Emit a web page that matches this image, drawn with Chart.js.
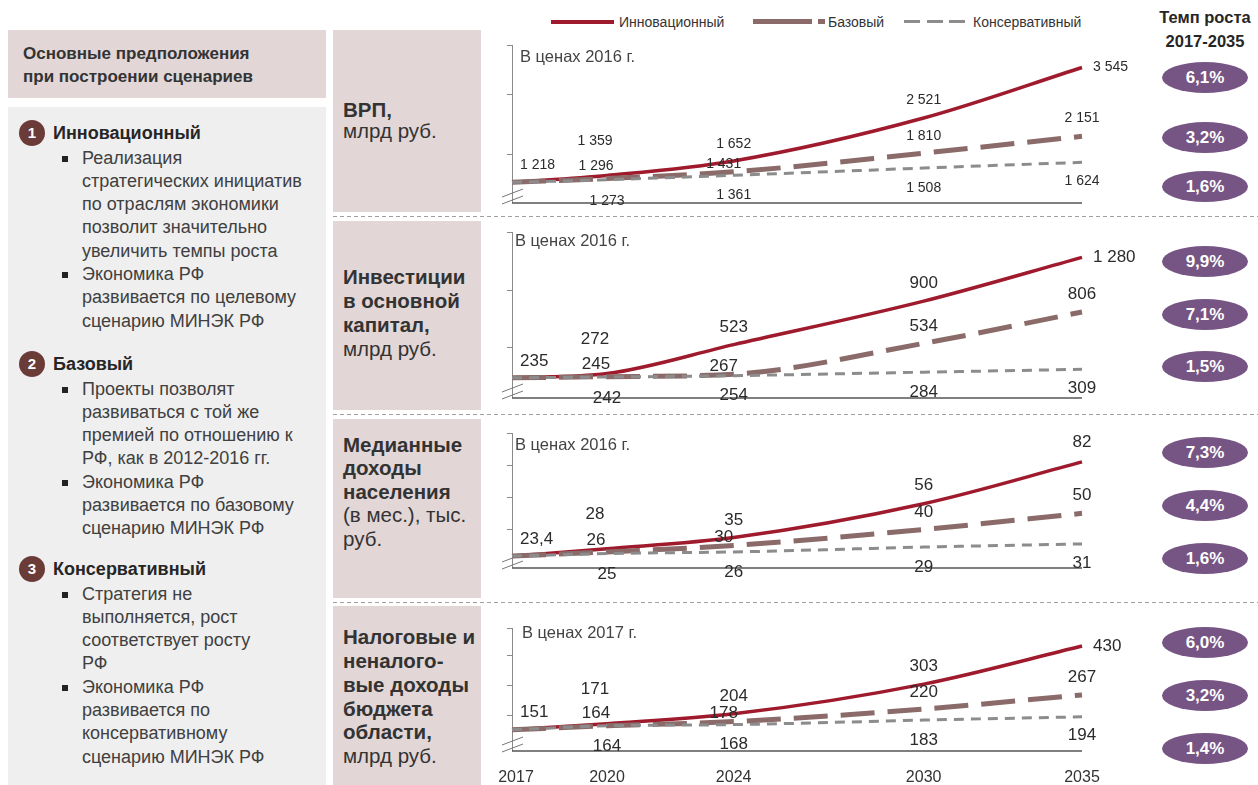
<!DOCTYPE html>
<html>
<head>
<meta charset="utf-8">
<script src="https://cdn.jsdelivr.net/npm/chart.js@4.4.0/dist/chart.umd.min.js"></script>
<style>
  body { margin: 0; width: 1258px; height: 785px; position: relative; overflow: hidden; background: #fff; font-family: Arial, "Liberation Sans", sans-serif; color: #333; }
  .abs { position: absolute; }
  .pink { background: #e2d6d6; }
  .head { left: 8px; top: 30px; width: 318px; height: 68px; font-weight: bold; font-size: 17px; line-height: 23px; color: #333; }
  .head div { position: absolute; left: 15px; white-space: nowrap; }
  .panel { left: 8px; top: 107px; width: 318px; height: 678px; background: #efefef; }
  .num { width: 26px; height: 26px; border-radius: 50%; background: #6b3b38; color: #fff; font-weight: bold; font-size: 15px; line-height: 26px; text-align: center; }
  .ttl { font-weight: bold; font-size: 18px; line-height: 24px; color: #262626; white-space: nowrap; }
  .ln { font-size: 18px; color: #404040; white-space: nowrap; line-height: 23.3px; }
  .bul { width: 6px; height: 6px; background: #222; }
  .box { left: 333px; width: 148px; }
  .box div { position: absolute; left: 10px; font-size: 20.5px; line-height: 24px; white-space: nowrap; color: #333; }
  .sep { left: 333px; width: 925px; height: 1px; background: repeating-linear-gradient(90deg, #a0a0a0 0 4px, transparent 4px 7px); }
  .badge { left: 1162px; width: 86px; height: 31px; border-radius: 50%; background: #765584; color: #fff; font-weight: bold; font-size: 17px; line-height: 31px; text-align: center; }
  .lg { font-size: 14px; line-height: 16px; color: #333; white-space: nowrap; }
  canvas { position: absolute; }
</style>
</head>
<body>

<!-- legend -->
<div class="abs" style="left:551px;top:20px;width:63px;height:4px;background:#9e1a2c"></div>
<div class="abs lg" style="left:619px;top:14px">Инновационный</div>
<div class="abs" style="left:753px;top:19px;width:59px;height:5px;background:#8a6b69"></div>
<div class="abs" style="left:818px;top:19px;width:7px;height:5px;background:#8a6b69"></div>
<div class="abs lg" style="left:828px;top:14px">Базовый</div>
<div class="abs" style="left:904px;top:20px;width:16px;height:3px;background:#8c8c8c"></div>
<div class="abs" style="left:927px;top:20px;width:16px;height:3px;background:#8c8c8c"></div>
<div class="abs" style="left:949px;top:20px;width:16px;height:3px;background:#8c8c8c"></div>
<div class="abs lg" style="left:973px;top:14px">Консервативный</div>

<div class="abs" style="left:1135px;top:5px;width:140px;text-align:center;font-weight:bold;font-size:16.5px;line-height:24px;color:#262626">Темп роста<br>2017-2035</div>

<!-- left panel -->
<div class="abs pink head"><div style="top:12px">Основные предположения</div><div style="top:35px">при построении сценариев</div></div>
<div class="abs panel"></div>
<div id="items"></div>

<!-- row label boxes -->
<div class="abs pink box" style="top:30px;height:182px"><div style="top:68px"><b>ВРП,</b></div><div style="top:89px">млрд руб.</div></div>
<div class="abs pink box" style="top:221px;height:189px"><div style="top:44px"><b>Инвестиции</b></div><div style="top:68px"><b>в основной</b></div><div style="top:92px"><b>капитал,</b></div><div style="top:116px">млрд руб.</div></div>
<div class="abs pink box" style="top:419px;height:179px"><div style="top:14px"><b>Медианные</b></div><div style="top:37px"><b>доходы</b></div><div style="top:61px"><b>населения</b></div><div style="top:84px">(в мес.), тыс.</div><div style="top:108px">руб.</div></div>
<div class="abs pink box" style="top:606px;height:179px"><div style="top:19px"><b>Налоговые и</b></div><div style="top:43px"><b>неналого-</b></div><div style="top:67px"><b>вые доходы</b></div><div style="top:91px"><b>бюджета</b></div><div style="top:114px"><b>области,</b></div><div style="top:138px">млрд руб.</div></div>

<div class="abs sep" style="top:216px"></div>
<div class="abs sep" style="top:414px"></div>
<div class="abs sep" style="top:602px"></div>

<canvas id="c1" width="680" height="178" style="left:480px;top:34px"></canvas>
<canvas id="c2" width="680" height="192" style="left:480px;top:220px"></canvas>
<canvas id="c3" width="680" height="182" style="left:480px;top:418px"></canvas>
<canvas id="c4" width="680" height="179" style="left:480px;top:606px"></canvas>

<div id="badges"></div>

<script>
'use strict';

// ******* DATA *********
const years = [2017, 2020, 2024, 2030, 2035];

const grpInno = [1218, 1359, 1652, 2521, 3545];
const grpBase = [1218, 1296, 1431, 1810, 2151];
const grpCons = [1218, 1273, 1361, 1508, 1624];

const invInno = [235, 272, 523, 900, 1280];
const invBase = [235, 245, 267, 534, 806];
const invCons = [235, 242, 254, 284, 309];

const incInno = [23.4, 28, 35, 56, 82];
const incBase = [23.4, 26, 30, 40, 50];
const incCons = [23.4, 25, 26, 29, 31];

const taxInno = [151, 171, 204, 303, 430];
const taxBase = [151, 164, 178, 220, 267];
const taxCons = [151, 164, 168, 183, 194];

const grpRates = ['6,1%', '3,2%', '1,6%'];
const invRates = ['9,9%', '7,1%', '1,5%'];
const incRates = ['7,3%', '4,4%', '1,6%'];
const taxRates = ['6,0%', '3,2%', '1,4%'];

// hidden y-axis tick marks (no labels)
const grpTicks = [4000, 3000, 1800];
const invTicks = [1500, 1000, 500];
const incTicks = [100, 80, 60, 40];
const taxTicks = [490, 400, 300, 200];

// ******* LEFT PANEL TEXT ********
const scenarios = [
  { n: '1', title: 'Инновационный', top: 120, lines: [
    ['Реализация', true], ['стратегических инициатив'], ['по отраслям экономики'], ['позволит значительно'], ['увеличить темпы роста'],
    ['Экономика  РФ', true], ['развивается по целевому'], ['сценарию МИНЭК  РФ']] },
  { n: '2', title: 'Базовый', top: 351, lines: [
    ['Проекты  позволят', true], ['развиваться с той же'], ['премией  по отношению к'], ['РФ, как в 2012-2016 гг.'],
    ['Экономика  РФ', true], ['развивается по базовому'], ['сценарию МИНЭК  РФ']] },
  { n: '3', title: 'Консервативный', top: 556, lines: [
    ['Стратегия не', true], ['выполняется, рост'], ['соответствует росту'], ['РФ'],
    ['Экономика  РФ', true], ['развивается по'], ['консервативному'], ['сценарию МИНЭК  РФ']] }
];

let itemsBox = document.getElementById('items');
let html = '';
for (let i = 0; i < scenarios.length; i++) {
  let s = scenarios[i];
  html += `<div class="abs num" style="left:19px;top:${s.top}px">${s.n}</div>`;
  html += `<div class="abs ttl" style="left:53px;top:${s.top + 1}px">${s.title}</div>`;
  for (let j = 0; j < s.lines.length; j++) {
    let top = s.top + 26.5 + j * 23.3;
    if (s.lines[j][1]) {
      html += `<div class="abs bul" style="left:62px;top:${top + 9}px"></div>`;
    }
    html += `<div class="abs ln" style="left:82px;top:${top}px">${s.lines[j][0]}</div>`;
  }
}
itemsBox.innerHTML = html;

// ******* BADGES ********
const badgeRows = [[grpRates, [77, 137, 186]], [invRates, [261, 314, 366]], [incRates, [452, 505, 558]], [taxRates, [642, 695, 748]]];
let badgeHtml = '';
for (let r = 0; r < badgeRows.length; r++) {
  for (let k = 0; k < 3; k++) {
    badgeHtml += `<div class="abs badge" style="top:${badgeRows[r][1][k] - 15}px">${badgeRows[r][0][k]}</div>`;
  }
}
document.getElementById('badges').innerHTML = badgeHtml;

// ******* HELPERS ********
function fmt(v) {
  return String(v).replace('.', ',').replace(/\B(?=(\d{3})+(?!\d))/g, ' ');
}

function pts(arr) {
  return arr.map((v, i) => ({ x: years[i], y: v }));
}

// label offsets from each point [dx, dy]
const shiftInno = [[-17], [-12, -34], [0, -17], [0, -18], [0, 0]];
const shiftBase = [null, [-11, -12], [-10, -8], [0, -17], [0, -18]];
const shiftCons = [null, [0, 21], [0, 20], [0, 20], [0, 19]];

// ******* CHART BUILDER ********
function makeChart(id, inno, base, cons, yMin, yMax, tickMarks, opt) {
  let frame = {
    id: 'frame' + id,
    beforeDatasetsDraw(chart) {
      let c = chart.ctx;
      let a = chart.chartArea;
      let ys = chart.scales.y;
      c.save();
      c.strokeStyle = '#8a8a8a';
      c.lineWidth = 1;
      c.beginPath();
      c.moveTo(a.left + 0.5, a.top);
      c.lineTo(a.left + 0.5, a.bottom);
      for (let t of tickMarks) {
        let py = Math.round(ys.getPixelForValue(t)) + 0.5;
        c.moveTo(a.left - 5, py);
        c.lineTo(a.left + 0.5, py);
      }
      c.stroke();
      // break marks
      c.strokeStyle = '#777';
      c.beginPath();
      c.moveTo(a.left - 10, a.bottom - 6);
      c.lineTo(a.left + 11, a.bottom - 14);
      c.moveTo(a.left - 10, a.bottom + 1);
      c.lineTo(a.left + 11, a.bottom - 7);
      c.stroke();
      // baseline
      c.strokeStyle = '#555';
      c.lineWidth = 1.5;
      c.beginPath();
      c.moveTo(a.left, a.bottom);
      c.lineTo(a.right, a.bottom);
      c.stroke();
      // note
      c.fillStyle = '#444';
      c.font = '16.5px Arial, "Liberation Sans"';
      c.textBaseline = 'middle';
      c.textAlign = 'left';
      c.fillText(opt.note, a.left + opt.noteX, a.top + opt.noteY);
      // years
      if (opt.showYears) {
        c.fillStyle = '#333';
        c.textAlign = 'center';
        c.font = '16px Arial, "Liberation Sans"';
        let xs = chart.scales.x;
        for (let yr of years) {
          c.fillText(String(yr), xs.getPixelForValue(yr) + (yr === years[0] ? 4 : 0), a.bottom + 27);
        }
      }
      c.restore();
    },
    afterDatasetsDraw(chart) {
      let c = chart.ctx;
      c.save();
      c.fillStyle = '#2b2b2b';
      c.font = opt.labelFont;
      c.textBaseline = 'middle';
      let groups = [[inno, shiftInno], [base, shiftBase], [cons, shiftCons]];
      let xs = chart.scales.x;
      let ys = chart.scales.y;
      for (let g = 0; g < groups.length; g++) {
        let vals = groups[g][0];
        let sh = groups[g][1];
        for (let i = 0; i < vals.length; i++) {
          if (!sh[i]) continue;
          let px = xs.getPixelForValue(years[i]);
          let py = ys.getPixelForValue(vals[i]);
          if (g === 0 && i === 0) {
            c.textAlign = 'left';
            c.fillText(fmt(vals[i]), px + 8, py + sh[i][0]);
          } else if (g === 0 && i === vals.length - 1 && !opt.endAbove) {
            c.textAlign = 'left';
            c.fillText(fmt(vals[i]), px + 11, py);
          } else if (g === 0 && i === vals.length - 1) {
            c.textAlign = 'center';
            c.fillText(fmt(vals[i]), px, py - 20);
          } else {
            c.textAlign = 'center';
            c.fillText(fmt(vals[i]), px + sh[i][0], py + sh[i][1]);
          }
        }
      }
      c.restore();
    }
  };

  return new Chart(document.getElementById(id), { //eslint-disable-line
    type: 'line',
    data: {
      datasets: [
        { label: 'Консервативный', data: pts(cons), borderColor: '#8c8c8c', borderWidth: 3, borderDash: [10, 7], cubicInterpolationMode: 'monotone', pointRadius: 0, clip: false },
        { label: 'Базовый', data: pts(base), borderColor: '#8a6b69', borderWidth: 5, borderDash: [34, 13], cubicInterpolationMode: 'monotone', pointRadius: 0, clip: false },
        { label: 'Инновационный', data: pts(inno), borderColor: '#9e1a2c', borderWidth: 3.5, cubicInterpolationMode: 'monotone', pointRadius: 0, clip: false }
      ]
    },
    options: {
      responsive: false,
      animation: false,
      layout: { padding: opt.pad },
      plugins: { legend: { display: false }, tooltip: { enabled: false } },
      scales: {
        x: { type: 'linear', min: years[0], max: years[years.length - 1], display: false },
        y: { min: yMin, max: yMax, display: false }
      }
    },
    plugins: [frame]
  });
}

makeChart('c1', grpInno, grpBase, grpCons, 800, 4000, grpTicks,
  { pad: { left: 32, right: 78, top: 11, bottom: 9 }, note: 'В ценах 2016 г.', noteX: 8, noteY: 12, labelFont: '14px Arial, "Liberation Sans"' });
makeChart('c2', invInno, invBase, invCons, 60, 1500, invTicks,
  { pad: { left: 32, right: 78, top: 12, bottom: 14 }, note: 'В ценах 2016 г.', noteX: 3, noteY: 9, labelFont: '17px Arial, "Liberation Sans"' });
makeChart('c3', incInno, incBase, incCons, 16, 100, incTicks,
  { pad: { left: 32, right: 78, top: 15, bottom: 32 }, note: 'В ценах 2016 г.', noteX: 3, noteY: 12, labelFont: '17px Arial, "Liberation Sans"', endAbove: true });
makeChart('c4', taxInno, taxBase, taxCons, 80, 490, taxTicks,
  { pad: { left: 32, right: 78, top: 22, bottom: 34 }, note: 'В ценах 2017 г.', noteX: 10, noteY: 5, labelFont: '17px Arial, "Liberation Sans"', showYears: true });
</script>
</body>
</html>
